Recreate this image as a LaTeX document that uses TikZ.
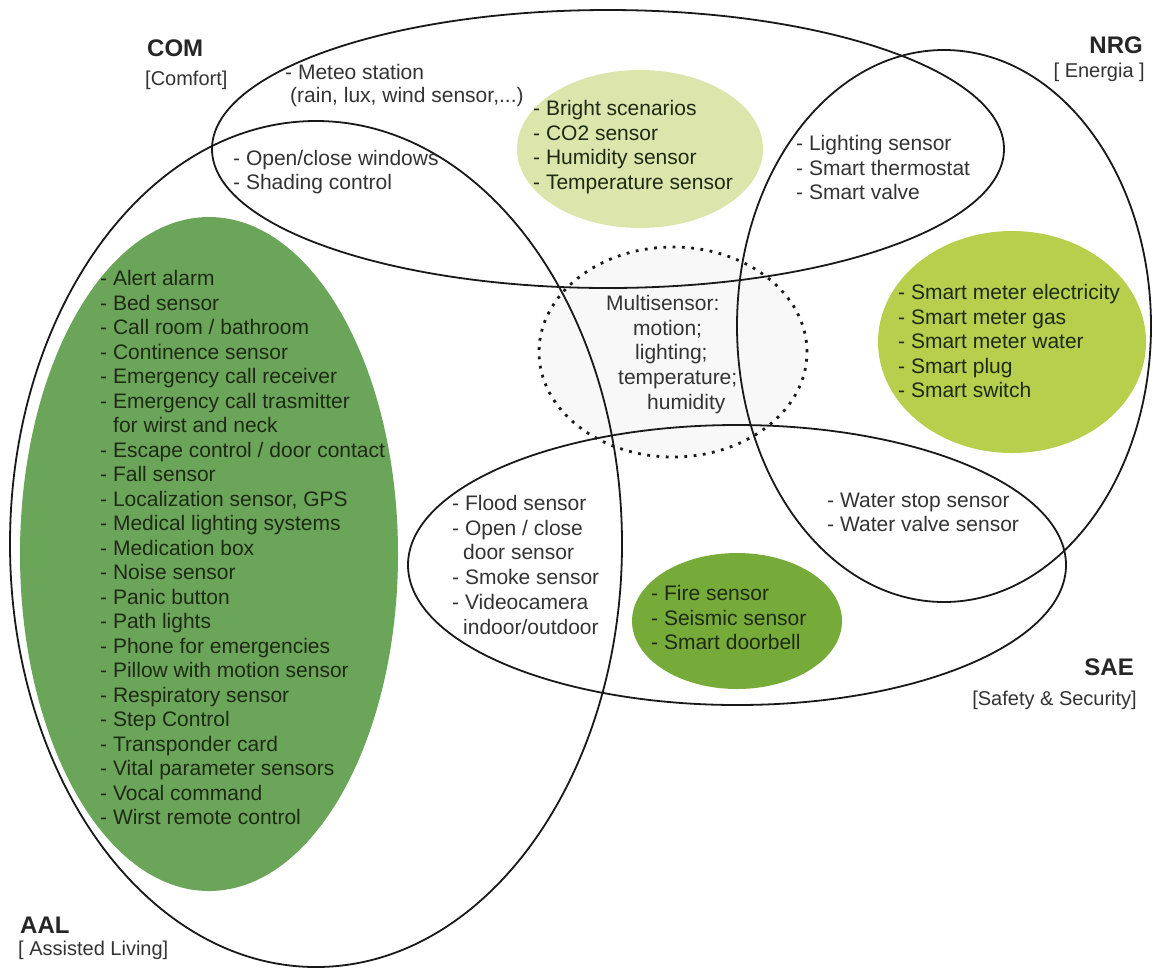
\documentclass[tikz,border=0pt]{standalone}
\usepackage{fontspec}
\setmainfont{Liberation Sans}
\usetikzlibrary{shapes.geometric}
\definecolor{aalgreen}{HTML}{6BA55A}
\definecolor{nrggreen}{HTML}{B8CF4E}
\definecolor{saegreen}{HTML}{76AB3A}
\definecolor{comgreen}{HTML}{DCE5AC}
\definecolor{txt}{HTML}{333333}
\definecolor{darktxt}{HTML}{1E2A14}
\definecolor{msfill}{HTML}{F8F8F8}
\begin{document}
\begin{tikzpicture}[x=1pt,y=-1pt,
  blob/.style={ellipse, inner sep=0pt, draw=none},
  setring/.style={ellipse, inner sep=0pt, draw=black!90, line width=1.8pt},
  msring/.style={ellipse, inner sep=0pt, draw=black!90, fill=msfill, line width=2.8pt, dash pattern=on 2.8pt off 6.5pt},
  item/.style={inner sep=0pt, anchor=west, text height=0.72em, text depth=0.21em, font=\fontsize{21}{24.5}\selectfont, text=txt},
  dark/.style={item, text=darktxt},
  lbl/.style={inner sep=0pt, font=\bfseries\fontsize{24}{28}\selectfont, text=black!85},
  sublbl/.style={inner sep=0pt, font=\fontsize{20}{24}\selectfont, text=txt},
]
\useasboundingbox[fill=white] (0,0) rectangle (1155,970);

% filled category blobs
\node[blob, fill=aalgreen, minimum width=378pt, minimum height=674pt] (aalblob) at (209,554) {};
\node[blob, fill=comgreen, minimum width=246pt, minimum height=158pt] (comblob) at (640,149) {};
\node[blob, fill=nrggreen, minimum width=268pt, minimum height=222pt] (nrgblob) at (1012,342) {};
\node[blob, fill=saegreen, minimum width=210pt, minimum height=136pt] (saeblob) at (737,621) {};

% multisensor
\node[msring, minimum width=268pt, minimum height=210pt] (msring) at (673,352) {};

% set outlines
\node[setring, minimum width=792pt, minimum height=278pt] (com) at (608,149) {};
\node[setring, minimum width=414pt, minimum height=552pt] (nrg) at (944,326) {};
\node[setring, minimum width=612pt, minimum height=846pt] (aal) at (316,544) {};
\node[setring, minimum width=658pt, minimum height=280pt] (sae) at (737,565) {};

% labels
\node[lbl, anchor=west] (comlbl) at (147,48) {COM};
\node[sublbl, anchor=west] (comsub) at (145,80) {[Comfort]};
\node[lbl, anchor=east] (nrglbl) at (1143,45) {NRG};
\node[sublbl, anchor=east] (nrgsub) at (1145,72) {[ Energia ]};
\node[lbl, anchor=east] (saelbl) at (1134,667) {SAE};
\node[sublbl, anchor=east] (saesub) at (1137,700) {[Safety \& Security]};
\node[lbl, anchor=west] (aallbl) at (20,925) {AAL};
\node[sublbl, anchor=west] (aalsub) at (18,950) {[ Assisted Living]};

% COM texts
\node[item] (meteo1) at (285,77) {- Meteo station};
\node[item] (meteo2) at (290,100) {(rain, lux, wind sensor,...)};
\node[item] (win1) at (233,163) {- Open/close windows};
\node[item] (win2) at (233,187) {- Shading control};
\foreach \t [count=\i from 0] in {Bright scenarios, CO2 sensor, Humidity sensor, Temperature sensor}
  \node[dark] (bright\i) at (533,{113+24.5*\i}) {- \t};

% COM/NRG
\foreach \t [count=\i from 0] in {Lighting sensor, Smart thermostat, Smart valve}
  \node[item] (light\i) at (796,{148+24.5*\i}) {- \t};

% NRG
\foreach \t [count=\i from 0] in {Smart meter electricity, Smart meter gas, Smart meter water, Smart plug, Smart switch}
  \node[dark] (meter\i) at (898,{297+24.5*\i}) {- \t};

% multisensor
\node[item] (ms0) at (606,308) {Multisensor:};
\node[item] (ms1) at (633,333) {motion;};
\node[item] (ms2) at (635,357) {lighting;};
\node[item] (ms3) at (618,382) {temperature;};
\node[item] (ms4) at (647,407) {humidity};

% SAE
\node[item] (sae0) at (452,508) {- Flood sensor};
\node[item] (sae1) at (452,533) {- Open / close};
\node[item] (sae2) at (463,557) {door sensor};
\node[item] (sae3) at (452,582) {- Smoke sensor};
\node[item] (sae4) at (452,607) {- Videocamera};
\node[item] (sae5) at (463,632) {indoor/outdoor};
\foreach \t [count=\i from 0] in {Fire sensor, Seismic sensor, Smart doorbell}
  \node[dark] (fire\i) at (651,{598+24.5*\i}) {- \t};
\node[item] (water0) at (827,505) {- Water stop sensor};
\node[item] (water1) at (827,529) {- Water valve sensor};

% AAL
\foreach \t [count=\i from 0] in {- Alert alarm, - Bed sensor, - Call room / bathroom, - Continence sensor,
  - Emergency call receiver, - Emergency call trasmitter, \hspace{13pt}for wirst and neck,
  - Escape control / door contact, - Fall sensor, {- Localization sensor, GPS},
  - Medical lighting systems, - Medication box, - Noise sensor, - Panic button, - Path lights,
  - Phone for emergencies, - Pillow with motion sensor, - Respiratory sensor, - Step Control,
  - Transponder card, - Vital parameter sensors, - Vocal command, - Wirst remote control}
  \node[dark] (aal\i) at (100,{283+24.5*\i}) {\t};
\end{tikzpicture}
\end{document}
